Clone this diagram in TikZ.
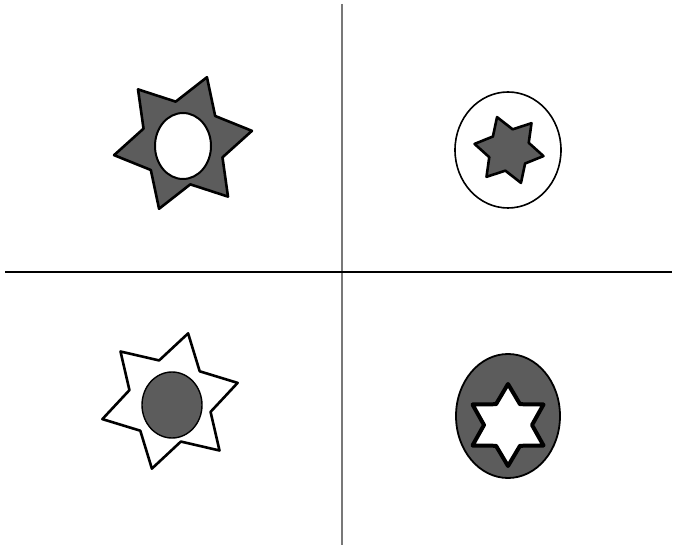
\documentclass[tikz,border=0pt]{standalone}
\definecolor{fillgray}{RGB}{92,92,92}
\definecolor{axisgray}{RGB}{120,120,120}

\begin{document}
\begin{tikzpicture}[x=1pt,y=1pt,line width=2.6pt,line join=round]
\useasboundingbox (0,0) rectangle (677,549);
% six-pointed star: \sixstar{options}{centre}{outer}{inner}{first tip angle}
\newcommand\sixstar[5]{%
  \draw[#1,shift={#2}] (#5:#3)
    \foreach \i in {1,...,11}{ -- ({#5+30*\i}:{ifthenelse(mod(\i,2)==0,#3,#4)}) } -- cycle;}
% axes
\draw[axisgray,line width=1.4pt] (342,545) -- (342,4);
\draw[black,line width=2pt] (5,277) -- (672,277);
% top left: grey star, white hole
\sixstar{fill=fillgray}{(183,406)}{70}{42}{10}
\draw[fill=white,line width=2pt] (183,403) ellipse [x radius=28,y radius=33];
% top right: white disc, grey star
\draw[fill=white,line width=1.6pt] (508,399) ellipse [x radius=53,y radius=58];
\sixstar{fill=fillgray}{(509,399)}{35}{21}{50}
% bottom left: white star, grey disc
\sixstar{fill=white}{(170,148)}{70}{42}{15}
\draw[fill=fillgray,line width=1.4pt] (172,144) ellipse [x radius=30,y radius=33];
% bottom right: grey disc, white star
\draw[fill=fillgray,line width=1.8pt] (508,133) ellipse [x radius=52,y radius=62];
\sixstar{fill=white,line width=4pt}{(508,124)}{41}{24}{90}
\end{tikzpicture}
\end{document}
